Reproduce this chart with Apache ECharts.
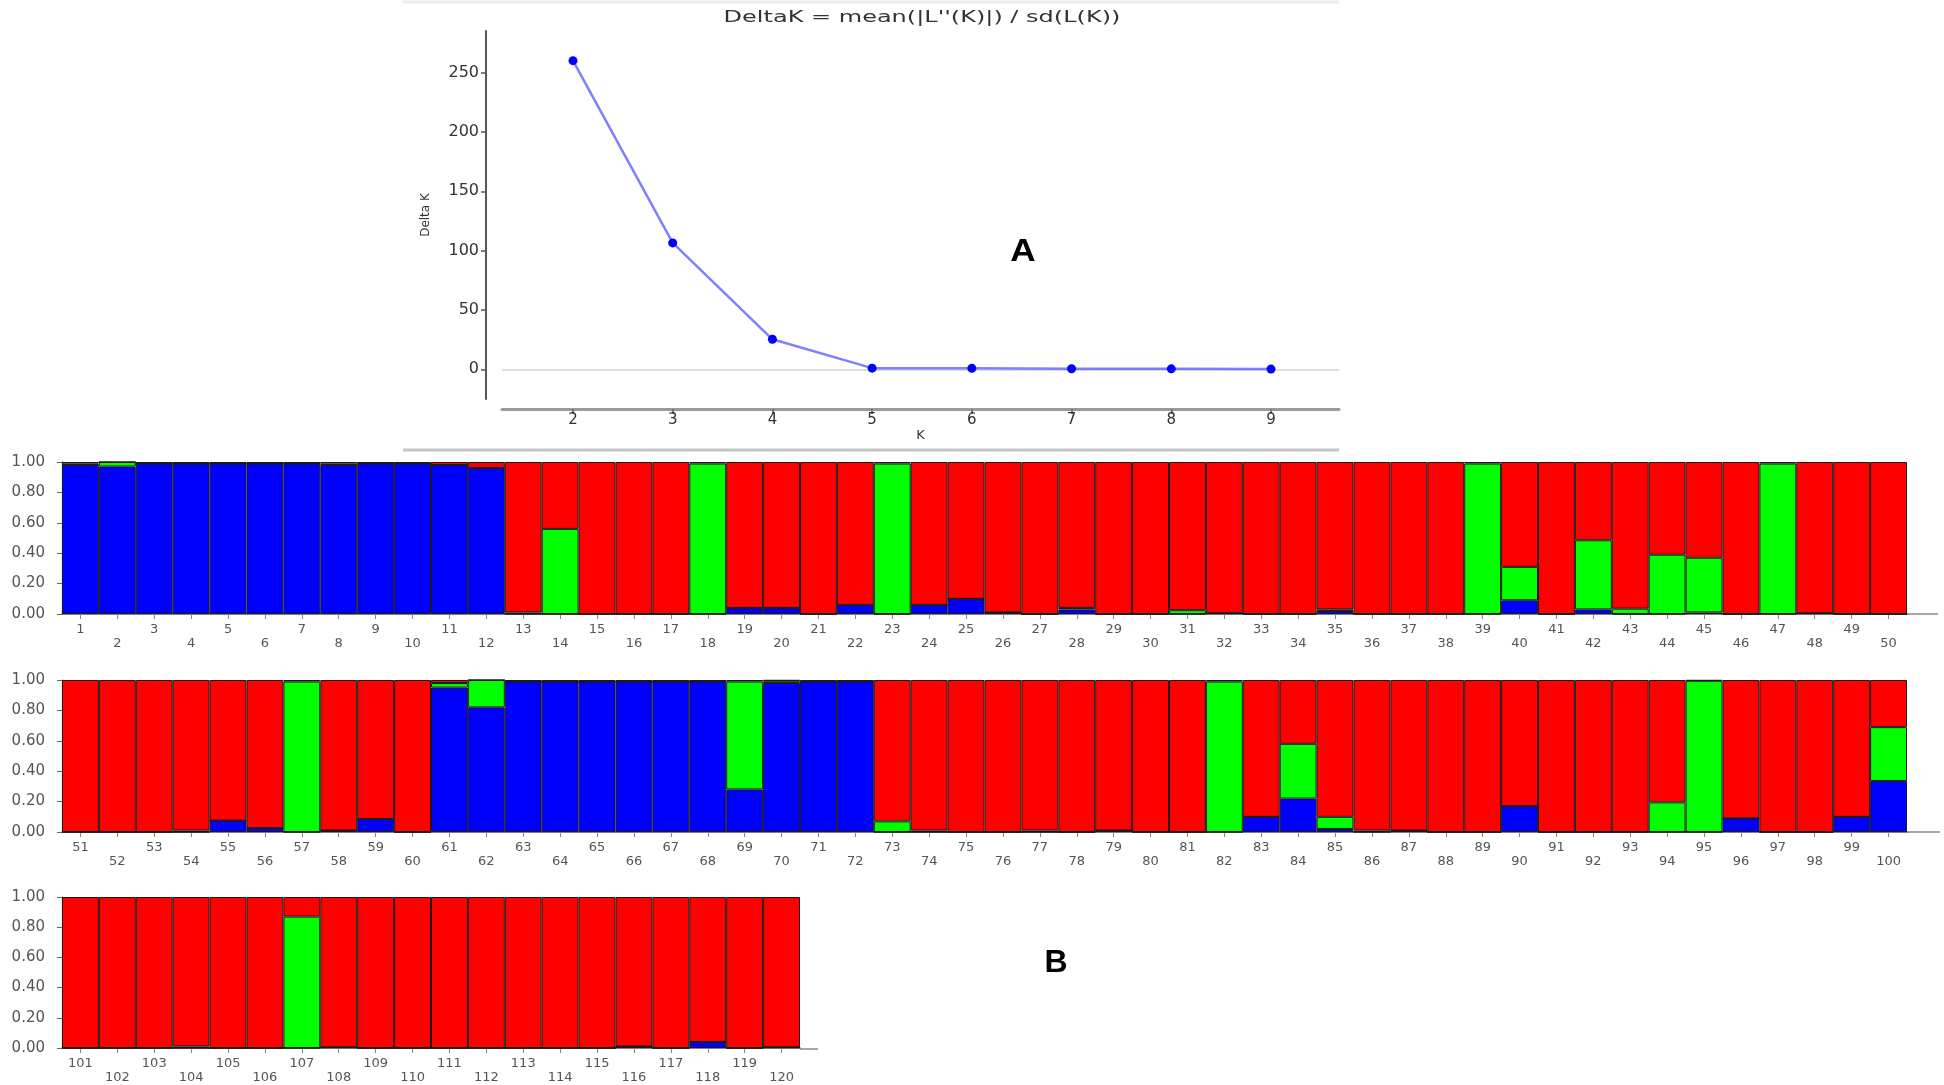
<!DOCTYPE html>
<html><head><meta charset="utf-8">
<script src="https://cdn.jsdelivr.net/npm/echarts@6/dist/echarts.min.js"></script>
<style>html,body{margin:0;padding:0;background:#fff}#c{width:1944px;height:1085px}</style>
</head><body><div id="c"></div>
<script>
// ---- Panel A: Evanno DeltaK ----
const kValues = [2, 3, 4, 5, 6, 7, 8, 9];
const deltaK = [260, 106.5, 25.3, 1.0, 0.8, 0.5, 0.4, 0.2];
const deltaKTicks = [0, 50, 100, 150, 200, 250];

// ---- Panel B: membership coefficients (K = 3) ----
const individuals = Array.from({length: 120}, (_, i) => String(i + 1));
const blueShare = [
  0.98,0.97,0.99,0.99,0.99,0.99,0.99,0.98,0.99,0.99,
  0.98,0.96,0,0,0,0,0,0,0.04,0.04,
  0,0.06,0,0.06,0.10,0.01,0,0.03,0,0,
  0,0.005,0,0,0.02,0,0,0,0,0.09,
  0,0.03,0,0,0.01,0,0,0.005,0,0,
  0,0,0,0,0.075,0.025,0,0.01,0.085,0,
  0.95,0.82,0.99,0.99,0.99,0.99,0.99,0.99,0.28,0.98,
  0.99,0.99,0,0,0,0,0,0,0.01,0,
  0,0,0.10,0.22,0.02,0,0.01,0,0,0.17,
  0,0,0,0,0,0.09,0,0,0.10,0.335,
  0,0,0,0,0,0,0,0.005,0,0,
  0,0,0,0,0,0.01,0,0.04,0,0.005
];
const greenShare = [
  0.01,0.03,0,0,0,0,0,0.01,0,0,
  0,0,0.01,0.56,0,0,0,0.99,0,0,
  0,0,0.99,0,0,0,0,0.01,0,0,
  0.025,0,0,0,0.01,0,0,0,0.99,0.22,
  0,0.455,0.035,0.39,0.36,0,0.99,0,0,0,
  0,0,0,0.01,0,0,0.99,0,0,0,
  0.03,0.18,0,0,0,0,0,0,0.71,0.015,
  0,0,0.07,0.01,0,0,0.01,0,0,0,
  0,0.99,0,0.36,0.08,0.01,0,0,0,0,
  0,0,0,0.195,0.995,0,0,0,0,0.355,
  0,0,0,0.01,0,0,0.87,0,0,0,
  0,0,0,0,0,0,0,0,0,0
];
const redShare = [
  0.01,0,0.01,0.01,0.01,0.01,0.01,0.01,0.01,0.01,
  0.02,0.04,0.99,0.44,1,1,1,0.01,0.96,0.96,
  1,0.94,0.01,0.94,0.90,0.99,1,0.96,1,1,
  0.975,0.995,1,1,0.97,1,1,1,0.01,0.69,
  1,0.515,0.965,0.61,0.63,1,0.01,0.995,1,1,
  1,1,1,0.99,0.925,0.975,0.01,0.99,0.915,1,
  0.02,0,0.01,0.01,0.01,0.01,0.01,0.01,0.01,0.005,
  0.01,0.01,0.93,0.99,1,1,0.99,1,0.99,1,
  1,0.01,0.90,0.42,0.90,0.99,0.99,1,1,0.83,
  1,1,1,0.805,0.005,0.91,1,1,0.90,0.31,
  1,1,1,0.99,1,1,0.13,0.995,1,1,
  1,1,1,1,1,0.99,1,0.96,1,0.995
];
const membershipTicks = [0, 0.2, 0.4, 0.6, 0.8, 1.0];
const rowRanges = [[0, 50], [50, 100], [100, 120]];

// ---- layout ----
const FONT = 'DejaVu Sans';
const barStep = 1845 / 50;
const rowTops = [462, 680, 897];
const rowHeight = 152;
const rowExtendTo = [1938, 1940, 818];

const grids = [{left: 502, top: 31, width: 837, height: 368}];
rowRanges.forEach((r, i) => {
  grids.push({left: 62, top: rowTops[i], width: barStep * (r[1] - r[0]), height: rowHeight});
});

const xAxes = [{
  gridIndex: 0, type: 'value', min: 1.288, max: 9.682, offset: 10, position: 'bottom',
  axisLine: {show: true, onZero: false, lineStyle: {color: '#9a9a9a', width: 3}},
  axisTick: {show: true, customValues: kValues, length: 5, lineStyle: {color: '#777', width: 2}},
  axisLabel: {customValues: kValues, margin: 4, fontSize: 15, color: '#333', fontFamily: FONT},
  splitLine: {show: false},
  name: 'K', nameLocation: 'middle', nameGap: 14,
  nameTextStyle: {fontSize: 13, color: '#333', fontFamily: FONT}
}];
const yAxes = [{
  gridIndex: 0, type: 'value', min: -25, max: 285, offset: 16,
  axisLine: {show: true, onZero: false, lineStyle: {color: '#555', width: 2}},
  axisTick: {show: true, customValues: deltaKTicks, length: 5, lineStyle: {color: '#555', width: 1.5}},
  axisLabel: {customValues: deltaKTicks, margin: 7, fontSize: 16, color: '#333', fontFamily: FONT},
  splitLine: {show: false},
  name: 'Delta K', nameLocation: 'middle', nameRotate: 90, nameGap: 54,
  nameTextStyle: {fontSize: 12, color: '#333', fontFamily: FONT}
}];

const series = [{
  type: 'line', xAxisIndex: 0, yAxisIndex: 0,
  data: kValues.map((k, i) => [k, deltaK[i]]),
  lineStyle: {color: 'rgba(85,85,255,0.75)', width: 2.5},
  symbol: 'circle', symbolSize: 9,
  itemStyle: {color: '#0000ff'},
  z: 5,
  markLine: {
    silent: true, symbol: 'none', label: {show: false},
    lineStyle: {color: '#dcdcdc', width: 2, type: 'solid'},
    data: [{yAxis: 0}]
  }
}];

const comps = [
  {arr: blueShare, color: '#0000ff'},
  {arr: greenShare, color: '#00ff00'},
  {arr: redShare, color: '#ff0000'}
];

rowRanges.forEach((r, i) => {
  const gi = i + 1;
  xAxes.push({
    gridIndex: gi, type: 'category', data: individuals.slice(r[0], r[1]),
    axisLine: {show: true, lineStyle: {color: '#555', width: 1.5}},
    axisTick: {show: true, alignWithLabel: true, length: 5, lineStyle: {color: '#888'}},
    axisLabel: {
      interval: 0, margin: 9, fontSize: 13, lineHeight: 14, color: '#555', fontFamily: FONT,
      formatter: (v, idx) => (idx % 2 === 0 ? v : '\n' + v)
    },
    splitLine: {show: false}
  });
  yAxes.push({
    gridIndex: gi, type: 'value', min: 0, max: 1, interval: 0.2,
    axisLine: {show: true, lineStyle: {color: '#333', width: 1.2}},
    axisTick: {show: true, length: 5, lineStyle: {color: '#666'}},
    axisLabel: {formatter: v => v.toFixed(2), fontSize: 15, margin: 17, color: '#555', fontFamily: FONT},
    splitLine: {show: false}
  });
  comps.forEach(c => {
    series.push({
      type: 'bar', xAxisIndex: gi, yAxisIndex: gi, stack: 'row' + i,
      data: c.arr.slice(r[0], r[1]),
      barCategoryGap: '0%',
      itemStyle: {color: c.color, borderColor: '#1a1a1a', borderWidth: 1},
      emphasis: {disabled: true}
    });
  });
});

// decorations: panel frame lines, axis extensions, title & panel letters
const graphics = [
  {type: 'line', shape: {x1: 403, y1: 2, x2: 1339, y2: 2}, style: {stroke: '#ececec', lineWidth: 3}},
  {type: 'line', shape: {x1: 403, y1: 450, x2: 1339, y2: 450}, style: {stroke: '#c4c4c4', lineWidth: 3}},
  {type: 'text', x: 922, y: 18, scaleX: 1.6,
   style: {text: "DeltaK = mean(|L''(K)|) / sd(L(K))", font: '15px "DejaVu Sans"', fill: '#333',
           textAlign: 'center', textVerticalAlign: 'middle'}},
  {type: 'text', x: 1023, y: 252, scaleX: 1.1,
   style: {text: 'A', font: 'bold 32px "Liberation Sans"', fill: '#000', textAlign: 'center', textVerticalAlign: 'middle'}},
  {type: 'text', x: 1056, y: 963,
   style: {text: 'B', font: 'bold 32px "Liberation Sans"', fill: '#000', textAlign: 'center', textVerticalAlign: 'middle'}}
];
rowRanges.forEach((r, i) => {
  const g = grids[i + 1];
  const yb = g.top + g.height;
  graphics.push({type: 'line', shape: {x1: g.left + g.width, y1: yb, x2: rowExtendTo[i], y2: yb},
                 style: {stroke: '#8a8a8a', lineWidth: 1.5}});
});

const chart = echarts.init(document.getElementById('c'), null, {renderer: 'canvas'});
chart.setOption({
  backgroundColor: '#fff',
  animation: false,
  grid: grids,
  xAxis: xAxes,
  yAxis: yAxes,
  series: series,
  graphic: graphics
});
</script></body></html>
